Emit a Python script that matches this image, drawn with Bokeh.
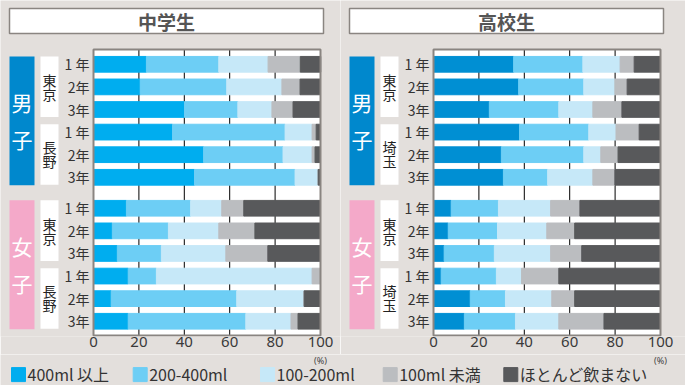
from bokeh.plotting import figure
from bokeh.models import ColumnDataSource, Range1d, FixedTicker
from bokeh.layouts import row, column
from bokeh.embed import file_html
from bokeh.resources import INLINE
from bokeh.core.properties import value

# ---------------- data ----------------
categories = ["400ml 以上", "200-400ml", "100-200ml", "100ml 未満", "ほとんど飲まない"]
grades = ["1 年", "2年", "3年"] * 4
ticks = [0, 20, 40, 60, 80, 100]
unit_label = "(%)"
genders = ["男子", "女子"]
mid_regions = ["東京", "長野", "東京", "長野"]
high_regions = ["東京", "埼玉", "東京", "埼玉"]

# rows: boys region1 1-3, boys region2 1-3, girls region1 1-3, girls region2 1-3
mid_400 = [23.3, 20.6, 40.1, 34.8, 48.5, 44.5, 14.5, 8.3, 10.5, 15.3, 7.8, 15.3]
mid_200 = [31.9, 38.1, 23.5, 49.6, 35.0, 44.3, 28.3, 24.7, 19.4, 12.4, 55.3, 51.8]
mid_100 = [21.7, 24.3, 15.0, 11.9, 12.8, 10.2, 13.7, 22.2, 28.4, 68.6, 29.7, 19.9]
mid_lt100 = [14.2, 8.0, 9.3, 1.8, 1.3, 0.0, 9.7, 15.9, 18.5, 3.7, 0.0, 3.1]
mid_none = [9.0, 9.0, 12.1, 1.9, 2.4, 1.0, 33.8, 28.9, 23.2, 0.0, 7.2, 9.9]

high_400 = [35.3, 37.5, 24.6, 37.9, 29.9, 30.8, 7.8, 6.5, 4.7, 3.4, 16.2, 13.6]
high_200 = [30.5, 28.7, 30.6, 30.5, 36.3, 19.5, 20.8, 21.7, 22.1, 24.3, 15.5, 22.5]
high_100 = [16.4, 13.7, 15.0, 12.0, 7.5, 19.9, 23.0, 21.7, 24.8, 11.1, 20.4, 19.1]
high_lt100 = [6.2, 5.4, 12.8, 10.2, 7.6, 9.7, 12.9, 12.3, 13.7, 16.4, 10.1, 19.9]
high_none = [11.6, 14.7, 17.0, 9.4, 18.7, 20.1, 35.5, 37.8, 34.7, 44.8, 37.8, 24.9]

# ---------------- style ----------------
BG = "#e3dfdc"
FRAME = "#8a8581"
C_MID = ["#00adef", "#6dcef5", "#c6e8f8", "#bbbdc0", "#58595b"]
C_HIGH = ["#008fd3", "#6dcef5", "#c6e8f8", "#bbbdc0", "#58595b"]
BLUE_BOX = "#0088cd"
PINK_BOX = "#f4a9c9"
JP = value("Noto Sans CJK JP")

GAP = 0.37
ypos = [i + (GAP if i >= 6 else 0) for i in range(12)]

PX = 2.27     # pixels per percent
X0 = 93.0     # pixel of 0 %
ROW = 22.6    # pixels per row
Y0 = 63.8     # pixel of first row centre
PANEL_H = 354
FRAME_B = 336
W1, W2 = 340, 345


def X(px):
    return (px - X0) / PX


def Y(py):
    return (py - Y0) / ROW


def panel(title, regions, vals, colors, width):
    p = figure(width=width, height=PANEL_H, output_backend="svg", toolbar_location=None,
               x_range=Range1d(X(0), X(width)), y_range=Range1d(Y(FRAME_B), Y(0)),
               y_axis_location=None, min_border=0, min_border_bottom=PANEL_H - FRAME_B)
    p.background_fill_color = BG
    p.border_fill_color = BG
    p.outline_line_color = None
    p.xgrid.visible = False
    p.ygrid.visible = False
    ax = p.xaxis[0]
    ax.ticker = FixedTicker(ticks=ticks)
    ax.axis_line_color = None
    ax.major_tick_line_color = None
    ax.minor_tick_line_color = None
    ax.major_tick_out = 0
    ax.major_label_standoff = 0
    ax.major_label_text_font = "Noto Sans"
    ax.major_label_text_font_size = "15px"
    ax.major_label_text_color = "#3a3a3a"

    # title box
    p.quad(left=X(9), right=X(323), top=Y(8), bottom=Y(33), fill_color="white",
           line_color=FRAME, line_width=1.5)
    p.text(x=[X(166)], y=[Y(21)], text=[title], text_align="center", text_baseline="middle",
           text_font=JP, text_font_size="19px", text_font_style="bold", text_color="#555555")

    # plot area
    p.quad(left=0, right=100, top=Y(49), bottom=Y(335), fill_color="white", line_color=None)
    p.segment(x0=ticks[1:-1], x1=ticks[1:-1], y0=Y(49), y1=Y(335), line_color="black", line_width=1)

    src = ColumnDataSource(dict(y=ypos, c0=vals[0], c1=vals[1], c2=vals[2], c3=vals[3], c4=vals[4]))
    p.hbar_stack(["c0", "c1", "c2", "c3", "c4"], y="y", height=0.695, color=colors, source=src)

    p.quad(left=0, right=100, top=Y(49), bottom=Y(335), fill_color=None, line_color=FRAME, line_width=2)

    # row labels
    p.text(x=X(89), y=ypos, text=grades, text_align="right", text_baseline="middle",
           text_font=JP, text_font_size="14px", text_color="#333333")

    # region boxes
    for g in range(4):
        top = ypos[g * 3] - 0.35
        bot = ypos[g * 3 + 2] + 0.33
        mid = (top + bot) / 2
        p.quad(left=X(40), right=X(58), top=top, bottom=bot, fill_color="white", line_color=None)
        p.text(x=[X(49), X(49)], y=[mid - 0.31, mid + 0.31], text=list(regions[g]),
               text_align="center", text_baseline="middle", text_font=JP,
               text_font_size="14px", text_color="#222222")

    # gender boxes
    for g in range(2):
        top = ypos[g * 6] - 0.35
        bot = ypos[g * 6 + 5] + 0.35
        mid = (top + bot) / 2
        p.quad(left=X(9), right=X(34), top=top, bottom=bot,
               fill_color=BLUE_BOX if g == 0 else PINK_BOX, line_color=None)
        p.text(x=[X(21.5), X(21.5)], y=[mid - 0.82, mid + 0.82], text=list(genders[g]),
               text_align="center", text_baseline="middle", text_font=JP,
               text_font_size="21px", text_color="white")
    return p


p1 = panel("中学生", mid_regions, [mid_400, mid_200, mid_100, mid_lt100, mid_none], C_MID, W1)
p2 = panel("高校生", high_regions, [high_400, high_200, high_100, high_lt100, high_none], C_HIGH, W2)

# bottom strip: unit labels under the 100 ticks, and the legend
LEG_H = 385 - PANEL_H
leg = figure(width=W1 + W2, height=LEG_H, output_backend="svg", toolbar_location=None,
             x_range=Range1d(0, W1 + W2), y_range=Range1d(LEG_H, 0),
             x_axis_location=None, y_axis_location=None, min_border=0)
leg.background_fill_color = BG
leg.border_fill_color = BG
leg.outline_line_color = None
leg.xgrid.visible = False
leg.ygrid.visible = False

unit_x = [X0 + ticks[-1] * PX, W1 + X0 + ticks[-1] * PX]
leg.text(x=unit_x, y=360 - PANEL_H, text=[unit_label, unit_label], text_align="center",
         text_baseline="middle", text_font=value("Noto Sans"), text_font_size="9px",
         text_color="#444444")

leg_x = [11, 132.7, 260, 382.7, 503.3]
leg_c = 373.6 - PANEL_H
leg.quad(left=leg_x, right=[v + 14 for v in leg_x], top=leg_c - 6.5, bottom=leg_c + 7.5, color=C_MID)
leg.text(x=[v + 16 for v in leg_x], y=leg_c, text=categories, text_align="left", text_baseline="middle",
         text_font=JP, text_font_size="16px", text_color="#333333")

layout = column(row(p1, p2, spacing=0), leg, spacing=0)
open("out.html", "w").write(file_html(layout, INLINE))
